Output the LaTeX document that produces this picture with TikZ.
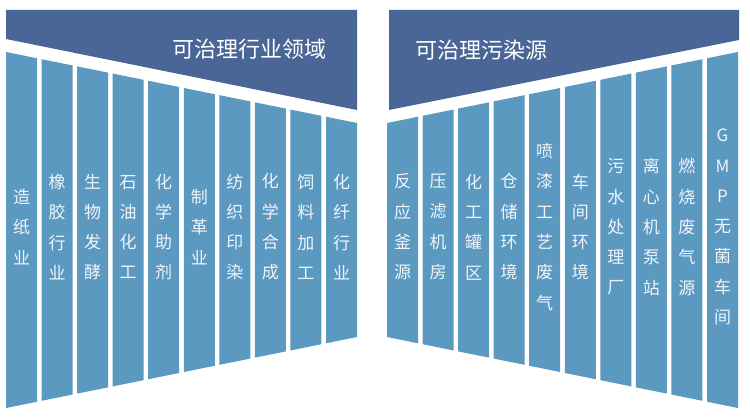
\documentclass[tikz,border=0pt]{standalone}
\usepackage{fontspec}
\newfontfamily\cjk{Noto Sans CJK SC}
\definecolor{headblue}{RGB}{74,102,150}
\definecolor{colblue}{RGB}{91,153,192}
\definecolor{txt}{RGB}{240,245,250}
\tikzset{
  headbox/.style={fill=headblue},
  colbox/.style={fill=colblue},
  lbl/.style={text=txt,inner sep=0pt,align=center,font=\cjk\fontsize{17}{30.3}\selectfont},
  ttl/.style={text=white,inner sep=0pt,font=\cjk\fontsize{22}{24}\selectfont}
}
\begin{document}
\begin{tikzpicture}[x=1pt,y=-1pt]
\useasboundingbox (0,0) rectangle (750,419);
\fill[white] (0,0) rectangle (750,419);
% headers
\fill[headbox] (6,10) -- (357,10) -- (357,110) -- (6,39) -- cycle;
\fill[headbox] (389,10) -- (739,10) -- (739,40) -- (389,110) -- cycle;
\node[ttl] (tl) at (249.5,49) {可治理行业领域};
\node[ttl] (tr) at (481.5,50) {可治理污染源};
% left columns
\foreach \t [count=\i from 0] in {{造\\纸\\业},{橡\\胶\\行\\业},{生\\物\\发\\酵},{石\\油\\化\\工},{化\\学\\助\\剂},{制\\革\\业},{纺\\织\\印\\染},{化\\学\\合\\成},{饲\\料\\加\\工},{化\\纤\\行\\业}}{
  \pgfmathsetmacro\xa{6+\i*35.56}
  \pgfmathsetmacro\xb{\xa+31}
  \fill[colbox] (\xa,{52+0.2023*(\xa-6)}) -- (\xb,{52+0.2023*(\xb-6)}) -- (\xb,{408-0.2023*(\xb-6)}) -- (\xa,{408-0.2023*(\xa-6)}) -- cycle;
  \node[lbl] (L\i) at ({\xa+15.5},227) {\t};
}
% right columns
\foreach \t [count=\i from 0] in {{反\\应\\釜\\源},{压\\滤\\机\\房},{化\\工\\罐\\区},{仓\\储\\环\\境},{喷\\漆\\工\\艺\\废\\气},{车\\间\\环\\境},{污\\水\\处\\理\\厂},{离\\心\\机\\泵\\站},{燃\\烧\\废\\气\\源},{G\\M\\P\\无\\菌\\车\\间}}{
  \pgfmathsetmacro\xa{387+\i*35.56}
  \pgfmathsetmacro\xb{\xa+31}
  \fill[colbox] (\xa,{52+0.2023*(738-\xa)}) -- (\xb,{52+0.2023*(738-\xb)}) -- (\xb,{408-0.2023*(738-\xb)}) -- (\xa,{408-0.2023*(738-\xa)}) -- cycle;
  \node[lbl] (R\i) at ({\xa+15.5},227) {\t};
}
\end{tikzpicture}
\end{document}
